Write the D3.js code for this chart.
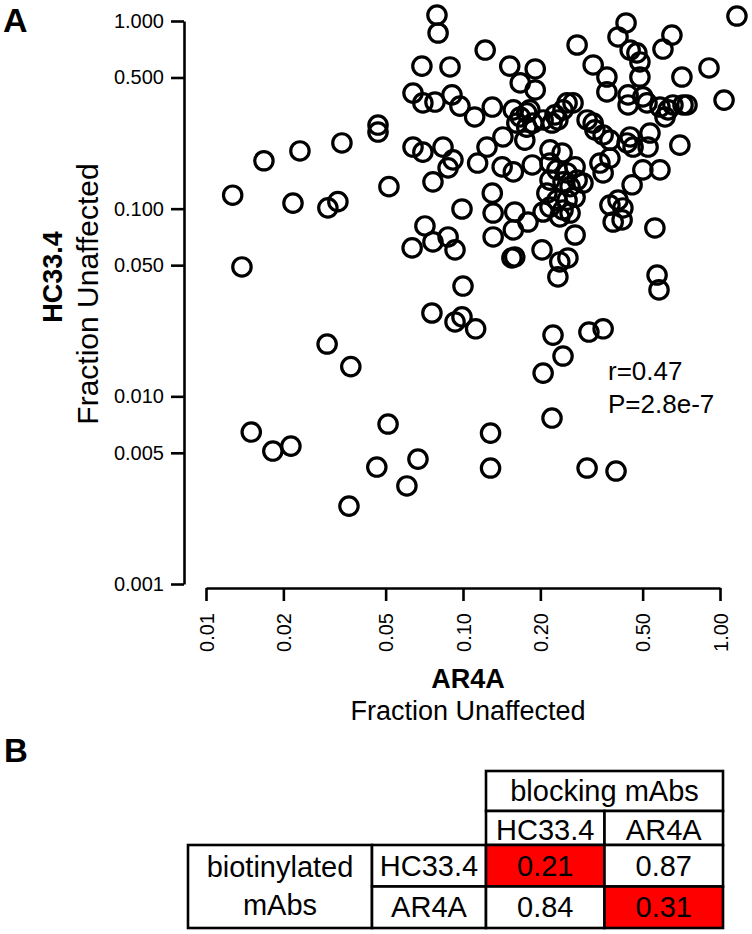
<!DOCTYPE html>
<html>
<head>
<meta charset="utf-8">
<script src="https://cdn.jsdelivr.net/npm/d3@7"></script>
<style>
  html, body { margin: 0; padding: 0; background: #fff; }
  svg { display: block; font-family: "Liberation Sans", Arial, sans-serif; }
</style>
</head>
<body>
<svg id="chart" width="752" height="934"></svg>
<script>
// ---------------- data ----------------
// AR4A fraction unaffected (x) for each mAb
const ar4a = [
  0.0127,0.0168,0.0232,0.0338,0.0467,0.0467,0.0218,0.0298,0.0326,0.0515,
  0.0138,0.0296,0.0366,0.0150,0.0182,0.0214,0.0360,0.0511,0.0462,0.0668,
  0.0605,0.128,0.128,0.304,0.394,0.222,0.205,0.245,0.224,0.309,
  0.351,0.0757,0.0931,0.0991,0.112,0.100,0.234,0.569,0.579,0.0792,
  0.0800,1.164,0.431,0.650,0.401,0.600,0.278,0.122,0.447,0.475,
  0.488,0.0692,0.0890,0.152,0.191,0.321,0.363,0.488,0.711,0.906,
  0.167,0.191,0.363,0.0639,0.0698,0.0778,0.0906,0.0973,0.111,0.130,
  0.439,0.439,0.501,0.520,0.584,0.628,0.656,0.718,0.744,0.611,
  1.037,0.254,0.268,0.245,0.228,0.222,0.234,0.157,0.167,0.177,
  0.182,0.162,0.177,0.187,0.205,0.304,0.321,0.326,0.351,0.373,
  0.447,0.459,0.435,0.534,0.525,0.698,0.143,0.174,0.0639,0.0698,
  0.0836,0.0914,0.0875,0.0764,0.124,0.114,0.142,0.157,0.186,0.218,
  0.243,0.218,0.232,0.254,0.273,0.218,0.245,0.261,0.278,0.293,
  0.341,0.351,0.373,0.212,0.232,0.254,0.273,0.218,0.245,0.205,
  0.261,0.238,0.584,0.501,0.455,0.373,0.401,0.419,0.384,0.416,
  0.558,0.273,0.130,0.131,0.159,0.179,0.131,0.157,0.0991,0.0711,
  0.0764,0.0875,0.0931,0.0634,0.155,0.159,0.203,0.238,0.256
];
// HC33.4 fraction unaffected (y), same order
const hc334 = [
  0.118,0.180,0.203,0.224,0.279,0.256,0.107,0.101,0.109,0.131,
  0.0489,0.0190,0.0144,0.00645,0.00511,0.00543,0.00260,0.00712,0.00420,0.00463,
  0.00333,0.00637,0.00415,0.00415,0.00400,0.00766,0.0133,0.0164,0.0212,0.0220,
  0.0229,0.0278,0.0249,0.0265,0.0229,0.0387,0.0433,0.0443,0.0369,1.076,
  0.863,1.063,0.976,0.842,0.822,0.709,0.745,0.700,0.700,0.676,
  0.605,0.575,0.569,0.575,0.555,0.583,0.503,0.503,0.503,0.562,
  0.468,0.429,0.419,0.413,0.366,0.370,0.404,0.352,0.308,0.348,
  0.404,0.357,0.394,0.366,0.348,0.336,0.357,0.357,0.357,0.308,
  0.379,0.366,0.366,0.336,0.316,0.286,0.297,0.336,0.308,0.324,
  0.336,0.286,0.272,0.286,0.297,0.297,0.286,0.263,0.247,0.232,
  0.241,0.213,0.224,0.253,0.213,0.218,0.241,0.232,0.213,0.200,
  0.213,0.182,0.165,0.139,0.213,0.175,0.167,0.157,0.171,0.206,
  0.198,0.175,0.161,0.155,0.167,0.142,0.139,0.131,0.142,0.137,
  0.175,0.155,0.186,0.121,0.111,0.111,0.115,0.102,0.0984,0.0960,
  0.0948,0.0903,0.161,0.161,0.134,0.1045,0.111,0.1009,0.0849,0.0871,
  0.0789,0.0724,0.121,0.0948,0.0960,0.0849,0.0707,0.0770,0.0996,0.0809,
  0.0665,0.0707,0.0603,0.0618,0.0546,0.0553,0.0603,0.0520,0.0546
];

const xTicks = [0.01, 0.02, 0.05, 0.10, 0.20, 0.50, 1.00];
const xTickLabels = ["0.01", "0.02", "0.05", "0.10", "0.20", "0.50", "1.00"];
const yTicks = [1, 0.5, 0.1, 0.05, 0.01, 0.005, 0.001];
const yTickLabels = ["1.000", "0.500", "0.100", "0.050", "0.010", "0.005", "0.001"];

const statsLines = ["r=0.47", "P=2.8e-7"];

// competition table
const blockingMabs = ["HC33.4", "AR4A"];
const biotinylatedMabs = ["HC33.4", "AR4A"];
const competition = [
  [0.21, 0.87],
  [0.84, 0.31]
];

// ---------------- drawing ----------------
const svg = d3.select("#chart");
svg.append("rect").attr("width", 752).attr("height", 934).attr("fill", "#fff");

const x = d3.scaleLog().domain([0.01, 1]).range([206, 720]);
const y = d3.scaleLog().domain([0.001, 1]).range([584, 21]);

// y axis
const yAxis = svg.append("g")
  .attr("transform", "translate(184,0)")
  .call(d3.axisLeft(y)
    .tickValues(yTicks)
    .tickFormat((d, i) => yTickLabels[i])
    .tickSize(13).tickSizeOuter(0).tickPadding(7));
yAxis.select(".domain").attr("stroke", "#000").attr("stroke-width", 2.6);
yAxis.selectAll(".tick line").attr("stroke", "#000").attr("stroke-width", 2.6);
yAxis.selectAll(".tick text")
  .attr("font-size", 20).attr("fill", "#000")
  .attr("font-family", "Liberation Sans, Arial, sans-serif");

// x axis
const xAxis = svg.append("g")
  .attr("transform", "translate(0,588)")
  .call(d3.axisBottom(x)
    .tickValues(xTicks)
    .tickFormat((d, i) => xTickLabels[i])
    .tickSize(13).tickSizeOuter(0));
xAxis.select(".domain").attr("stroke", "#000").attr("stroke-width", 2.6);
xAxis.selectAll(".tick line").attr("stroke", "#000").attr("stroke-width", 2.6);
xAxis.selectAll(".tick text")
  .attr("font-size", 20).attr("fill", "#000")
  .attr("font-family", "Liberation Sans, Arial, sans-serif")
  .attr("transform", "rotate(-90)")
  .attr("text-anchor", "end")
  .attr("x", -25).attr("y", 0).attr("dy", "0.36em");

// points
const pts = ar4a.map((v, i) => ({ x: v, y: hc334[i] }));
svg.append("g").selectAll("circle").data(pts).join("circle")
  .attr("cx", d => x(d.x))
  .attr("cy", d => y(d.y))
  .attr("r", 9.2)
  .attr("fill", "none")
  .attr("stroke", "#000")
  .attr("stroke-width", 3.2);

// panel letters
svg.append("text").attr("x", 3).attr("y", 32).attr("font-size", 34)
  .attr("font-weight", "bold").text("A");
svg.append("text").attr("x", 4).attr("y", 762).attr("font-size", 33)
  .attr("font-weight", "bold").text("B");

// y title
svg.append("text").attr("transform", "translate(62,277) rotate(-90)")
  .attr("text-anchor", "middle").attr("font-size", 27).attr("font-weight", "bold")
  .text("HC33.4");
svg.append("text").attr("transform", "translate(98,294) rotate(-90)")
  .attr("text-anchor", "middle").attr("font-size", 30)
  .text("Fraction Unaffected");

// x title
svg.append("text").attr("x", 468).attr("y", 688)
  .attr("text-anchor", "middle").attr("font-size", 27).attr("font-weight", "bold")
  .text("AR4A");
svg.append("text").attr("x", 468).attr("y", 720)
  .attr("text-anchor", "middle").attr("font-size", 27)
  .text("Fraction Unaffected");

// stats
svg.append("g").selectAll("text").data(statsLines).join("text")
  .attr("x", 608).attr("y", (d, i) => 380 + i * 33)
  .attr("font-size", 26).text(d => d);

// ---------------- table ----------------
const colX = d3.scaleBand().domain(blockingMabs).range([486, 723]);
const rowY = d3.scaleBand().domain(biotinylatedMabs).range([845, 928]);
const tbl = svg.append("g");
const bw = 2.6;
const tFont = 29;

function cell(x0, y0, w, h, fill) {
  tbl.append("rect").attr("x", x0).attr("y", y0).attr("width", w).attr("height", h)
    .attr("fill", fill).attr("stroke", "#000").attr("stroke-width", bw);
}
function label(tx, ty, t) {
  tbl.append("text").attr("x", tx).attr("y", ty).attr("text-anchor", "middle")
    .attr("font-size", tFont).attr("fill", "#000").text(t);
}

// header
cell(486, 771, 237, 40, "#fff");
label(604.5, 801, "blocking mAbs");
blockingMabs.forEach(m => {
  cell(colX(m), 811, colX.bandwidth(), 34, "#fff");
  label(colX(m) + colX.bandwidth() / 2, 840, m);
});
// row group label
cell(188, 845, 184, 83, "#fff");
label(280, 877, "biotinylated");
label(280, 915, "mAbs");
biotinylatedMabs.forEach((m, i) => {
  cell(372, rowY(m), 114, rowY.bandwidth(), "#fff");
  label(429, rowY(m) + rowY.bandwidth() / 2 + 10, m);
  blockingMabs.forEach((b, j) => {
    const v = competition[i][j];
    cell(colX(b), rowY(m), colX.bandwidth(), rowY.bandwidth(), i === j ? "#ff0000" : "#fff");
    label(colX(b) + colX.bandwidth() / 2, rowY(m) + rowY.bandwidth() / 2 + 10, v.toFixed(2));
  });
});
</script>
</body>
</html>
